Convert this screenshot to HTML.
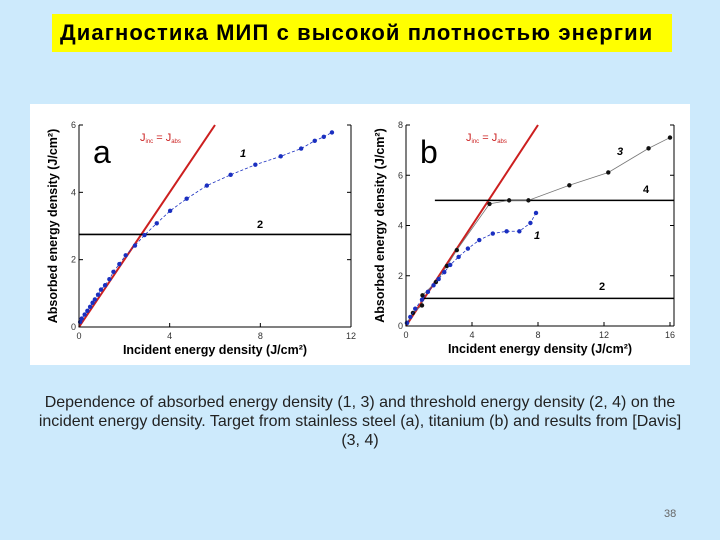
<!DOCTYPE html>
<html><head><meta charset="utf-8"><style>
body{margin:0;width:720px;height:540px;background:#cdeafc;position:relative;overflow:hidden;font-family:"Liberation Sans",sans-serif}
#title{position:absolute;left:52px;top:14px;width:620px;height:38px;background:#ffff00;}
#title span{position:absolute;left:8px;top:6px;font-size:22px;letter-spacing:1.1px;font-weight:bold;white-space:nowrap;color:#000}
#caption{position:absolute;left:30px;top:393px;width:660px;text-align:center;font-size:16px;line-height:19px;color:#222}
#pg{position:absolute;left:664px;top:508px;font-size:11px;color:#666}
svg{position:absolute;left:0;top:0}
</style></head><body>
<div id="title"><span>Диагностика МИП с высокой плотностью энергии</span></div>
<svg width="720" height="540" id="chart"></svg>
<div id="caption">Dependence of absorbed energy density (1, 3) and threshold energy density (2, 4) on the incident energy density. Target from stainless steel (a), titanium (b) and results from [Davis] (3, 4)</div>
<div id="pg">38</div>
<script>
const aX1=[0.05,0.12,0.25,0.37,0.49,0.6,0.7,0.84,0.97,1.15,1.34,1.52,1.78,2.06,2.47,2.89,3.43,4.02,4.75,5.64,6.69,7.78,8.9,9.8,10.4,10.8,11.16];
const aY1=[0.15,0.25,0.37,0.48,0.6,0.72,0.82,0.96,1.11,1.24,1.42,1.64,1.87,2.13,2.42,2.73,3.08,3.45,3.81,4.2,4.52,4.82,5.07,5.3,5.53,5.65,5.78];
const aThreshold=2.75;
const bX1=[0.06,0.26,0.56,0.97,1.33,1.67,1.98,2.32,2.68,3.19,3.75,4.44,5.26,6.1,6.87,7.54,7.88];
const bY1=[0.12,0.36,0.69,1.05,1.36,1.62,1.87,2.14,2.43,2.75,3.08,3.42,3.68,3.77,3.77,4.1,4.5];
const bX3=[0.06,0.42,0.97,1.0,1.81,2.48,3.08,5.06,6.25,7.42,9.9,12.26,14.7,16];
const bY3=[0.12,0.52,0.82,1.22,1.75,2.39,3.02,4.86,5.0,5.0,5.6,6.11,7.07,7.5];
const bThr2=1.1, bThr2Start=1.0, bThr4=5.0, bThr4Start=1.75;
const aTicksX=[0,4,8,12], aTicksY=[0,2,4,6], bTicksX=[0,4,8,12,16], bTicksY=[0,2,4,6,8];

const svg=document.getElementById('chart');
const NS='http://www.w3.org/2000/svg';
function el(t,a,p){const e=document.createElementNS(NS,t);for(const k in a)e.setAttribute(k,a[k]);(p||svg).appendChild(e);return e;}
const bg=el('rect',{x:30,y:104,width:660,height:261,fill:'#fff'});



function panel(o){
  const g=el('g',{});
  
  
  const sx=v=>o.x0+(v-0)/(o.xmax)*(o.x1-o.x0);
  const sy=v=>o.y0-(v)/(o.ymax)*(o.y0-o.y1);
  const rl=el('line',{x1:sx(0),y1:sy(0),x2:sx(o.ymax),y2:sy(o.ymax),stroke:'#cc1f1f','stroke-width':2},g);
  
  
  o.thr.forEach((t,i)=>{
    const l=el('line',{x1:sx(t[1]),y1:sy(t[0]),x2:o.xr,y2:sy(t[0]),stroke:'#000','stroke-width':1.6},g);
    
    
  });
  o.series.forEach(s=>{
    const sg=el('g',{},g);
    
    
    el('polyline',{points:s.x.map((v,i)=>sx(v)+','+sy(s.y[i])).join(' '),fill:'none',stroke:s.lc,'stroke-width':0.8,'stroke-dasharray':s.dash},sg);
    s.x.forEach((v,i)=>{const c=el('circle',{cx:sx(v),cy:sy(s.y[i]),r:2.2,fill:s.c},sg);
      
      });
  });
  el('path',{d:`M${o.x0},${o.y1} V${o.y0} H${o.xr}`,fill:'none',stroke:'#000','stroke-width':1},g);
  el('line',{x1:o.xr,y1:o.y1,x2:o.xr,y2:o.y0,stroke:'#000'},g);
  o.tx.forEach(v=>{el('line',{x1:sx(v),y1:o.y0,x2:sx(v),y2:o.y0-4,stroke:'#000'},g);
    const t=el('text',{x:sx(v),y:o.y0+12,'font-size':9,'text-anchor':'middle',fill:'#333'},g);t.textContent=v;});
  o.ty.forEach(v=>{el('line',{x1:o.x0,y1:sy(v),x2:o.x0+4,y2:sy(v),stroke:'#000'},g);
    el('line',{x1:o.xr,y1:sy(v),x2:o.xr-4,y2:sy(v),stroke:'#000'},g);
    const t=el('text',{x:o.x0-3,y:sy(v)+3,'font-size':9,'text-anchor':'end',fill:'#333'},g);t.textContent=v;});
  const xl=el('text',{x:(o.x0+o.xr)/2,y:o.y0+27,'font-size':12.5,'font-weight':'bold','text-anchor':'middle'},g);
  xl.textContent='Incident energy density (J/cm²)';
  
  
  const yl=el('text',{x:0,y:0,'font-size':12.5,'font-weight':'bold','text-anchor':'middle',transform:`translate(${o.x0-22},${(o.y0+o.y1)/2}) rotate(-90)`},g);
  yl.textContent='Absorbed energy density (J/cm²)';
  
  
  const lt=el('text',{x:o.x0+14,y:o.y1+38,'font-size':32},g);lt.textContent=o.id;
  o.labels.forEach(L=>{const t=el('text',{x:L[0],y:L[1],'font-size':11,'font-weight':'bold','font-style':L[3]||'normal',fill:L[4]||'#000'},g);t.textContent=L[2];});
  const j=el('text',{x:o.jx,y:o.y1+16,'font-size':11,fill:'#cc2222'},g);
  j.innerHTML='J<tspan font-size="6" dy="2">inc</tspan><tspan dy="-2"> = J</tspan><tspan font-size="6" dy="2">abs</tspan>';
}
panel({id:'a',x0:79,x1:351,xr:351,xmax:12,y0:327,y1:125,ymax:6,tx:aTicksX,ty:aTicksY,jx:140,
  thr:[[aThreshold,0,'2']],series:[{name:'1',x:aX1,y:aY1,c:'#1a2fc0',lc:'#1a2fc0',dash:'3,2'}],
  labels:[[240,157,'1','italic'],[257,228,'2']]});
panel({id:'b',x0:406,x1:670,xr:674,xmax:16,y0:326,y1:125,ymax:8,tx:bTicksX,ty:bTicksY,jx:466,
  thr:[[bThr4,bThr4Start,'4'],[bThr2,bThr2Start,'2']],
  series:[{name:'3',x:bX3,y:bY3,c:'#111',lc:'#777',dash:'none'},{name:'1',x:bX1,y:bY1,c:'#1a2fc0',lc:'#1a2fc0',dash:'3,2'}],
  labels:[[617,155,'3','italic'],[643,193,'4'],[534,239,'1','italic'],[599,290,'2']]});
</script>
</body></html>
